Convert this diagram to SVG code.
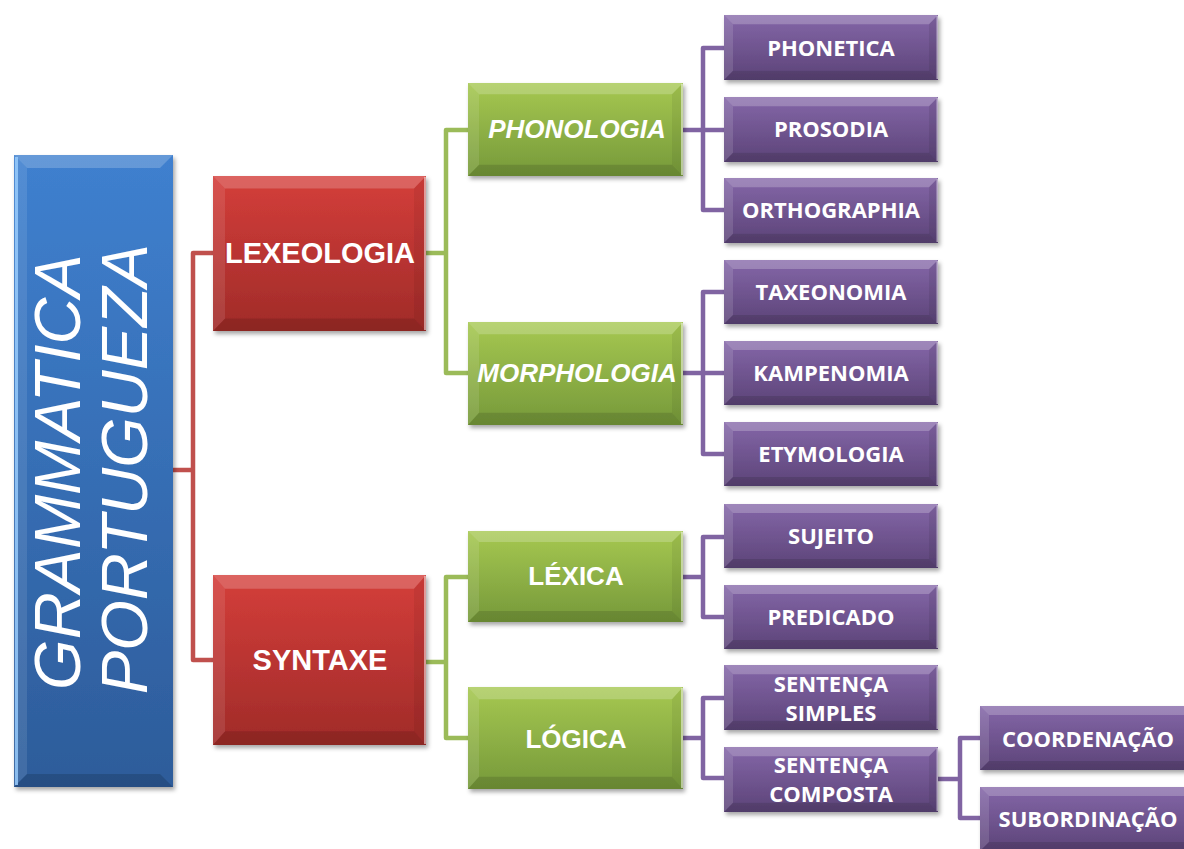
<svg xmlns="http://www.w3.org/2000/svg" xmlns:xlink="http://www.w3.org/1999/xlink" width="1184" height="849" viewBox="0 0 1184 849">
<style>
.conn path{fill:none;stroke-width:4.5;stroke-linejoin:round;stroke-linecap:butt}
.cr{stroke:#c0504d}.cg{stroke:#9bbb59}.cp{stroke:#8064a2}
.t{fill:#fff;text-anchor:middle}
.big{font-family:"Liberation Sans",Arial,sans-serif;font-weight:bold;font-size:29px}
.mid{font-family:"Liberation Sans",Arial,sans-serif;font-weight:bold;font-size:26px}
.it{font-style:italic}
.sm{font-family:"Open Sans","Liberation Sans",sans-serif;font-weight:bold;font-size:22px}
.vt{font-family:"Liberation Sans",Arial,sans-serif;font-style:italic;font-size:65px}
</style>
<defs>
<filter id="sh" x="-10%" y="-10%" width="125%" height="130%">
<feDropShadow dx="2" dy="3" stdDeviation="2" flood-color="#000" flood-opacity="0.35"/>
</filter>
<linearGradient id="gB" x1="0" y1="0" x2="0" y2="1"><stop offset="0" stop-color="#3f80cf"/><stop offset="1" stop-color="#2d5c9a"/></linearGradient>
<linearGradient id="gR" x1="0" y1="0" x2="0" y2="1"><stop offset="0" stop-color="#d43e3a"/><stop offset="1" stop-color="#a02b29"/></linearGradient>
<linearGradient id="gG" x1="0" y1="0" x2="0" y2="1"><stop offset="0" stop-color="#a6c851"/><stop offset="1" stop-color="#76993a"/></linearGradient>
<linearGradient id="gP" x1="0" y1="0" x2="0" y2="1"><stop offset="0" stop-color="#8466a8"/><stop offset="1" stop-color="#5c4478"/></linearGradient>
<symbol id="pBox" viewBox="0 0 214 64" preserveAspectRatio="none">
<rect width="214" height="64" fill="url(#gP)"/>
<polygon points="0,0 214,0 205,9 9,9" fill="#fff" opacity="0.22"/>
<polygon points="0,0 9,9 9,55 0,64" fill="#fff" opacity="0.12"/>
<polygon points="214,0 214,64 205,55 205,9" fill="#000" opacity="0.08"/>
<polygon points="0,64 214,64 205,55 9,55" fill="#000" opacity="0.12"/>
<rect x="212.5" y="1" width="1.5" height="62" fill="#fff" opacity="0.5"/>
</symbol>
<symbol id="gBox" viewBox="0 0 215 100" preserveAspectRatio="none">
<rect width="215" height="100" fill="url(#gG)"/>
<polygon points="0,0 215,0 204,12 11,12" fill="#fff" opacity="0.2"/>
<polygon points="0,0 11,12 11,88 0,100" fill="#fff" opacity="0.1"/>
<polygon points="215,0 215,100 204,88 204,12" fill="#000" opacity="0.06"/>
<polygon points="0,100 215,100 204,88 11,88" fill="#000" opacity="0.12"/>
<rect x="213" y="1" width="2" height="98" fill="#fff" opacity="0.5"/>
</symbol>
<symbol id="rBox" viewBox="0 0 213 160" preserveAspectRatio="none">
<rect width="213" height="160" fill="url(#gR)"/>
<polygon points="0,0 213,0 201,13 12,13" fill="#fff" opacity="0.2"/>
<polygon points="0,0 12,13 12,147 0,160" fill="#fff" opacity="0.1"/>
<polygon points="213,0 213,160 201,147 201,13" fill="#000" opacity="0.06"/>
<polygon points="0,160 213,160 201,147 12,147" fill="#000" opacity="0.12"/>
<rect x="211" y="1" width="2" height="158" fill="#fff" opacity="0.5"/>
</symbol>
</defs>

<g class="conn" id="connectors">
<path class="cr" d="M173,470 H193 M213,253 H193 V660 H213"/>
<path class="cg" d="M426,253 H446 M468,130 H446 V373 H468"/>
<path class="cg" d="M426,662 H446 M468,577 H446 V738 H468"/>
<path class="cp" d="M683,130 H724 M724,48 H703 V210 H724"/>
<path class="cp" d="M683,373 H724 M724,292 H703 V454 H724"/>
<path class="cp" d="M683,577 H703 M724,537 H703 V617 H724"/>
<path class="cp" d="M683,738 H703 M724,698 H703 V778 H724"/>
<path class="cp" d="M938,779 H960 M980,738 H960 V818 H980"/>
</g>

<g id="n-grammatica">
<g filter="url(#sh)">
<rect x="14" y="155" width="159" height="632" fill="url(#gB)"/>
<polygon points="14,155 173,155 160,168 27,168" fill="#fff" opacity="0.2"/>
<polygon points="14,155 27,168 27,774 14,787" fill="#fff" opacity="0.1"/>
<polygon points="14,787 173,787 160,774 27,774" fill="#000" opacity="0.15"/>
<rect x="15" y="157" width="3" height="628" fill="#9cd0ff" opacity="0.8"/>
</g>
<text class="t vt" transform="translate(80,472) rotate(-90)">GRAMMATICA</text>
<text class="t vt" transform="translate(147,469) rotate(-90)">PORTUGUEZA</text>
</g>

<g id="n-lexeologia">
<use href="#rBox" x="213" y="176" width="213" height="155" filter="url(#sh)"/>
<text class="t big" x="320" y="263">LEXEOLOGIA</text>
</g>
<g id="n-syntaxe">
<use href="#rBox" x="213" y="575" width="213" height="170" filter="url(#sh)"/>
<text class="t big" x="320" y="670">SYNTAXE</text>
</g>

<g id="n-phonologia">
<use href="#gBox" x="468" y="83" width="215" height="93" filter="url(#sh)"/>
<text class="t mid it" x="577" y="138">PHONOLOGIA</text>
</g>
<g id="n-morphologia">
<use href="#gBox" x="468" y="322" width="215" height="103" filter="url(#sh)"/>
<text class="t mid it" x="577" y="382">MORPHOLOGIA</text>
</g>
<g id="n-lexica">
<use href="#gBox" x="468" y="531" width="215" height="91" filter="url(#sh)"/>
<text class="t mid" x="576" y="585">LÉXICA</text>
</g>
<g id="n-logica">
<use href="#gBox" x="468" y="687" width="215" height="102" filter="url(#sh)"/>
<text class="t mid" x="576" y="748">LÓGICA</text>
</g>

<g id="n-phonetica"><use href="#pBox" x="724" y="15" width="214" height="65" filter="url(#sh)"/><text class="t sm" x="831" y="56">PHONETICA</text></g>
<g id="n-prosodia"><use href="#pBox" x="724" y="97" width="214" height="65" filter="url(#sh)"/><text class="t sm" x="831" y="137">PROSODIA</text></g>
<g id="n-orthographia"><use href="#pBox" x="724" y="178" width="214" height="65" filter="url(#sh)"/><text class="t sm" x="831" y="218">ORTHOGRAPHIA</text></g>
<g id="n-taxeonomia"><use href="#pBox" x="724" y="260" width="214" height="64" filter="url(#sh)"/><text class="t sm" x="831" y="300">TAXEONOMIA</text></g>
<g id="n-kampenomia"><use href="#pBox" x="724" y="341" width="214" height="64" filter="url(#sh)"/><text class="t sm" x="831" y="381">KAMPENOMIA</text></g>
<g id="n-etymologia"><use href="#pBox" x="724" y="422" width="214" height="64" filter="url(#sh)"/><text class="t sm" x="831" y="462">ETYMOLOGIA</text></g>
<g id="n-sujeito"><use href="#pBox" x="724" y="504" width="214" height="64" filter="url(#sh)"/><text class="t sm" x="831" y="544">SUJEITO</text></g>
<g id="n-predicado"><use href="#pBox" x="724" y="585" width="214" height="64" filter="url(#sh)"/><text class="t sm" x="831" y="625">PREDICADO</text></g>
<g id="n-simples"><use href="#pBox" x="724" y="665" width="214" height="65" filter="url(#sh)"/><text class="t sm" x="831" y="692">SENTENÇA</text><text class="t sm" x="831" y="721">SIMPLES</text></g>
<g id="n-composta"><use href="#pBox" x="724" y="747" width="214" height="65" filter="url(#sh)"/><text class="t sm" x="831" y="773">SENTENÇA</text><text class="t sm" x="831" y="802">COMPOSTA</text></g>
<g id="n-coordenacao"><use href="#pBox" x="980" y="706" width="214" height="64" filter="url(#sh)"/><text class="t sm" x="1088" y="747">COORDENAÇÃO</text></g>
<g id="n-subordinacao"><use href="#pBox" x="980" y="787" width="214" height="64" filter="url(#sh)"/><text class="t sm" x="1088" y="827">SUBORDINAÇÃO</text></g>
</svg>
